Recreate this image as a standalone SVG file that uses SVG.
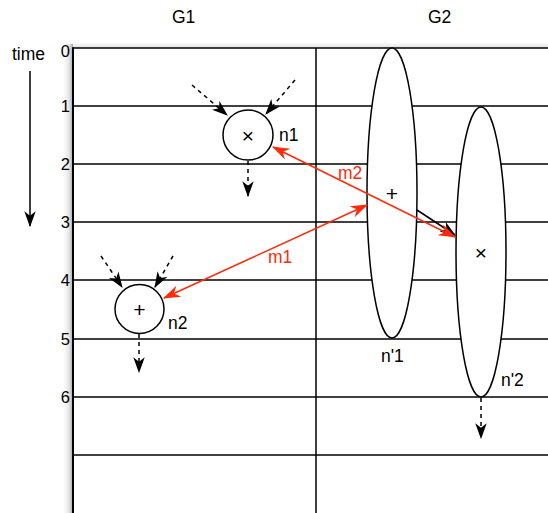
<svg xmlns="http://www.w3.org/2000/svg" width="548" height="513" viewBox="0 0 548 513">
<style>
text{font-family:"Liberation Sans",Arial,Helvetica,sans-serif;fill:#000}
.lbl{font-size:17.5px}
.num{font-size:16.5px;text-anchor:end}
.red{fill:#ff2a0a}
.grid{stroke:#000;stroke-width:1.5;fill:none}
.node{fill:#fff;stroke:#000;stroke-width:1.5}
.dash{stroke:#000;stroke-width:1.5;stroke-dasharray:4 4;fill:none}
.sym{font-size:21px;text-anchor:middle}
</style>
<defs>
<linearGradient id="shL" x1="0" y1="0" x2="1" y2="0">
<stop offset="0" stop-color="#000" stop-opacity="0"/>
<stop offset="0.6" stop-color="#000" stop-opacity="0.1"/>
<stop offset="1" stop-color="#000" stop-opacity="0.35"/>
</linearGradient>
<linearGradient id="shT" x1="0" y1="0" x2="0" y2="1">
<stop offset="0" stop-color="#000" stop-opacity="0"/>
<stop offset="1" stop-color="#000" stop-opacity="0.12"/>
</linearGradient>
<marker id="ah" markerUnits="userSpaceOnUse" markerWidth="16" markerHeight="12" refX="13" refY="5" orient="auto-start-reverse" viewBox="0 0 14 10">
<path d="M0,0 L14,5 L0,10 L4,5 z" fill="#000"/>
</marker>
<marker id="ahr" markerUnits="userSpaceOnUse" markerWidth="18" markerHeight="12" refX="15" refY="5.5" orient="auto-start-reverse" viewBox="0 0 16 11">
<path d="M0,0 L16,5.5 L0,11 L5,5.5 z" fill="#ff2a0a"/>
</marker>
</defs>
<rect width="548" height="513" fill="#fff"/>
<g id="shadow">
<rect x="63" y="44" width="10" height="469" fill="url(#shL)"/>
<rect x="73" y="42" width="475" height="6" fill="url(#shT)"/>
</g>
<g id="grid">
<line class="grid" x1="73" y1="48" x2="548" y2="48"/>
<line class="grid" x1="73" y1="106" x2="548" y2="106"/>
<line class="grid" x1="73" y1="164" x2="548" y2="164"/>
<line class="grid" x1="73" y1="222" x2="548" y2="222"/>
<line class="grid" x1="73" y1="280" x2="548" y2="280"/>
<line class="grid" x1="73" y1="339" x2="548" y2="339"/>
<line class="grid" x1="73" y1="397" x2="548" y2="397"/>
<line class="grid" x1="73" y1="455" x2="548" y2="455"/>
<line class="grid" x1="73" y1="47.3" x2="73" y2="513" style="stroke-width:2"/>
<line class="grid" x1="316" y1="48" x2="316" y2="513"/>
</g>
<g id="axis">
<text class="lbl" x="12" y="60">time</text>
<line x1="30" y1="71" x2="30" y2="226" stroke="#000" stroke-width="1.5" marker-end="url(#ah)"/>
<text class="num" x="70" y="57">0</text>
<text class="num" x="70" y="112">1</text>
<text class="num" x="70" y="170">2</text>
<text class="num" x="70" y="228">3</text>
<text class="num" x="70" y="286">4</text>
<text class="num" x="70" y="345">5</text>
<text class="num" x="70" y="403">6</text>
<text class="lbl" x="172" y="23">G1</text>
<text class="lbl" x="428" y="23">G2</text>
</g>
<g id="connectors">
<line class="dash" x1="192" y1="85" x2="227" y2="115" marker-end="url(#ah)"/>
<line class="dash" x1="295" y1="80" x2="266" y2="114" marker-end="url(#ah)"/>
<line class="dash" x1="248" y1="161" x2="248" y2="196" marker-end="url(#ah)"/>
<line class="dash" x1="101" y1="256" x2="122" y2="287" marker-end="url(#ah)"/>
<line class="dash" x1="173" y1="256" x2="155" y2="287" marker-end="url(#ah)"/>
<line class="dash" x1="139" y1="334" x2="139" y2="372" marker-end="url(#ah)"/>
<line class="dash" x1="481" y1="398" x2="481" y2="438" marker-end="url(#ah)"/>
</g>
<g id="n1">
<circle class="node" cx="248" cy="135" r="25"/>
<text class="sym" x="248" y="142.5">×</text>
<text class="lbl" x="279" y="141">n1</text>
</g>
<g id="n2">
<circle class="node" cx="139.5" cy="309" r="24.5"/>
<text class="sym" x="139.5" y="316.5">+</text>
<text class="lbl" x="168" y="329">n2</text>
</g>
<g id="np1">
<ellipse class="node" cx="392" cy="193" rx="25" ry="145"/>
<text class="sym" x="392" y="200.5">+</text>
<text class="lbl" x="381" y="362">n'1</text>
</g>
<g id="np2">
<ellipse class="node" cx="481" cy="252" rx="25" ry="145"/>
<text class="sym" x="481" y="259.5">×</text>
<text class="lbl" x="501" y="386">n'2</text>
</g>
<g id="messages">
<line x1="417" y1="210" x2="455" y2="235" stroke="#000" stroke-width="1.5" marker-end="url(#ah)"/>
<line x1="273" y1="147" x2="455" y2="237" stroke="#ff2a0a" stroke-width="1.5" marker-start="url(#ahr)" marker-end="url(#ahr)"/>
<line x1="164" y1="298" x2="367" y2="205" stroke="#ff2a0a" stroke-width="1.5" marker-start="url(#ahr)" marker-end="url(#ahr)"/>
<text class="lbl red" x="338" y="179">m2</text>
<text class="lbl red" x="268" y="263">m1</text>
</g>
</svg>
